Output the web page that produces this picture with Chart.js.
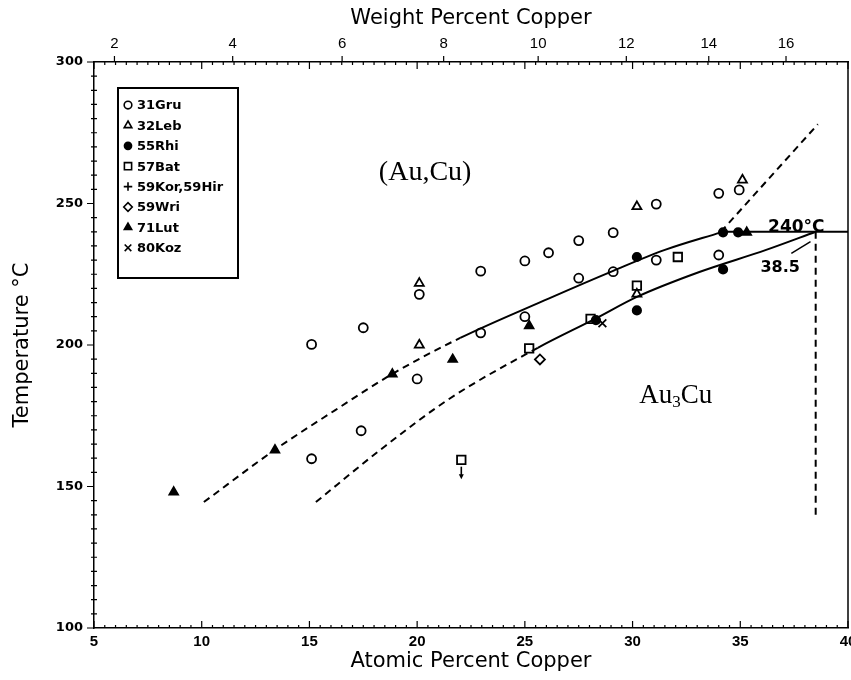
<!DOCTYPE html>
<html>
<head>
<meta charset="utf-8">
<script src="https://cdn.jsdelivr.net/npm/chart.js@4.4.1/dist/chart.umd.min.js"></script>
<style>
  html, body { margin: 0; padding: 0; background: #fff; overflow: hidden; width: 851px; height: 680px; }
  #wrap { width: 880px; height: 680px; }
</style>
</head>
<body>
<div id="wrap"><canvas id="phaseChart" width="880" height="680"></canvas></div>
<script>
// Au-Cu diagram, points are [atomic % Cu, temperature C]
const gru31 = [[15.1, 200.2], [15.1, 159.8], [17.5, 206.1], [17.4, 169.7], [20.1, 217.9], [20.0, 188.0],
  [22.95, 226.1], [22.95, 204.3], [25.0, 229.7], [25.0, 210.0], [26.1, 232.6], [27.5, 223.6], [27.5, 236.9],
  [29.1, 239.7], [29.1, 225.9], [31.1, 249.8], [31.1, 230.0], [34.0, 253.6], [34.95, 254.8], [34.0, 231.8]];
const leb32 = [[20.1, 221.8], [20.1, 200.0], [30.2, 248.9], [30.2, 218.0], [35.1, 258.3]];
const rhi55 = [[28.3, 208.8], [30.2, 231.1], [30.2, 212.2], [34.2, 239.8], [34.9, 239.8], [34.2, 226.7]];
const bat57 = [[22.05, 159.4], [25.2, 198.8], [28.05, 209.2], [30.2, 221.0], [32.1, 231.1]];
const korHir59 = [];
const wri59 = [[25.7, 194.9]];
const lut71 = [[8.7, 148.0], [13.4, 162.9], [18.85, 189.7], [21.65, 194.9], [25.2, 206.8], [35.3, 239.8]];
const koz80 = [[28.6, 207.7]];

// phase boundaries (dashed below the split composition)
const upperBoundary = [[10.1, 144.5], [13.4, 163.0], [16.2, 177.0], [18.9, 190.0], [22.0, 202.5],
  [26.1, 216.4], [29.1, 226.2], [31.5, 233.6], [34.1, 239.8]];
const upperSplit = 22.0;
const lowerBoundary = [[15.3, 144.5], [18.3, 163.0], [21.5, 181.0], [25.6, 199.0], [28.3, 209.4],
  [30.2, 217.0], [33.1, 225.8], [36.2, 233.6], [38.5, 240.0]];
const lowerSplit = 25.6;
const plateau = [[34.1, 240.0], [40.0, 240.0]];
const upperRight = [[34.1, 240.0], [38.6, 278.0]];
const congruent = [[38.5, 240.0], [38.5, 140.0]];

const wtTicks = [2, 4, 6, 8, 10, 12, 14, 16];
const atTicks = [5, 10, 15, 20, 25, 30, 35, 40];
const tempTicks = [100, 150, 200, 250, 300];

const MCU = 63.546, MAU = 196.967;
function wtToAt(w) {
  const cu = w / MCU, au = (100 - w) / MAU;
  return 100 * cu / (cu + au);
}
const pts = arr => arr.map(p => ({ x: p[0], y: p[1] }));
const DASH = [7, 5];

function marks(label, arr, style, filled, radius) {
  return {
    label: label, data: pts(arr), inLegend: true, legendRadius: radius * 0.85,
    pointStyle: style, pointRadius: radius, pointHoverRadius: radius,
    borderColor: '#000', backgroundColor: filled ? '#000' : 'rgba(255,255,255,0)',
    pointBorderWidth: 1.8, showLine: false
  };
}
function curve(arr, dashed, smooth) {
  return {
    data: pts(arr), showLine: true, pointRadius: 0, borderColor: '#000', borderWidth: 2,
    borderDash: dashed ? DASH : [], tension: smooth ? 0.4 : 0,
    cubicInterpolationMode: smooth ? 'monotone' : 'default', fill: false
  };
}
function splitCurve(arr, split) {
  const ds = curve(arr, false, true);
  ds.segment = { borderDash: c => (c.p1.parsed.x <= split + 1e-6 ? DASH : undefined) };
  return ds;
}

const sansTick = { family: "'Liberation Sans Narrow', 'Arial Narrow', sans-serif", size: 15, weight: 'bold' };

// minor / major tick marks on all four sides
const tickMarks = {
  id: 'tickMarks',
  afterDraw(chart) {
    const { ctx, chartArea: a, scales } = chart;
    ctx.save();
    ctx.strokeStyle = '#000';
    ctx.lineWidth = 1.2;
    ctx.beginPath();
    for (let i = 0; i <= 70; i++) {
      const v = 5 + i * 0.5;
      const px = scales.x.getPixelForValue(v);
      const len = i % 10 === 0 ? 7 : 3;
      ctx.moveTo(px, a.bottom); ctx.lineTo(px, a.bottom - len);
      ctx.moveTo(px, a.top); ctx.lineTo(px, a.top + len);
    }
    wtTicks.forEach(w => {
      const px = scales.x2.getPixelForValue(wtToAt(w));
      ctx.moveTo(px, a.top); ctx.lineTo(px, a.top - 6);
    });
    for (let i = 0; i <= 40; i++) {
      const py = scales.y.getPixelForValue(100 + i * 5);
      if (i % 10 === 0) { ctx.moveTo(a.left - 7, py); ctx.lineTo(a.left, py); }
      else { ctx.moveTo(a.left - 3, py); ctx.lineTo(a.left + 3, py); }
    }
    ctx.stroke();
    ctx.lineWidth = 1.5;
    ctx.beginPath();
    ctx.moveTo(a.right, a.top); ctx.lineTo(a.right, a.bottom);
    ctx.stroke();
    ctx.restore();
  }
};

// boxed legend inside the plot
const legendBox = {
  id: 'legendBox',
  afterDatasetsDraw(chart) {
    const { ctx, chartArea: a } = chart;
    const items = chart.data.datasets.filter(d => d.inLegend);
    const bx = a.left + 24, by = a.top + 26, bw = 120, bh = 190;
    ctx.save();
    ctx.fillStyle = '#fff';
    ctx.fillRect(bx, by, bw, bh);
    ctx.strokeStyle = '#000';
    ctx.lineWidth = 2;
    ctx.strokeRect(bx, by, bw, bh);
    ctx.font = "bold 13px 'DejaVu Sans', sans-serif";
    ctx.textBaseline = 'middle';
    items.forEach((d, i) => {
      const cy = by + 17 + i * 20.4;
      ctx.fillStyle = d.backgroundColor;
      ctx.strokeStyle = '#000';
      ctx.lineWidth = 1.6;
      Chart.helpers.drawPoint(ctx, { pointStyle: d.pointStyle, radius: d.legendRadius, borderWidth: 1.6, rotation: 0 }, bx + 10, cy);
      ctx.fillStyle = '#000';
      ctx.fillText(d.label, bx + 19, cy + 1);
    });
    ctx.restore();
  }
};

// region labels and small annotations
const notes = {
  id: 'notes',
  afterDatasetsDraw(chart) {
    const { ctx, scales: { x, y } } = chart;
    ctx.save();
    ctx.fillStyle = '#000';
    ctx.strokeStyle = '#000';
    ctx.textBaseline = 'middle';
    ctx.textAlign = 'center';
    ctx.font = "28px 'Liberation Serif', serif";
    ctx.fillText('(Au,Cu)', x.getPixelForValue(20.37), y.getPixelForValue(261));
    // Au3Cu with subscript
    const ax = x.getPixelForValue(32.0), ay = y.getPixelForValue(182);
    ctx.textAlign = 'left';
    ctx.font = "27px 'Liberation Serif', serif";
    const w1 = ctx.measureText('Au').width;
    ctx.font = "17px 'Liberation Serif', serif";
    const w2 = ctx.measureText('3').width;
    ctx.font = "27px 'Liberation Serif', serif";
    const w3 = ctx.measureText('Cu').width;
    let sx = ax - (w1 + w2 + w3) / 2;
    ctx.fillText('Au', sx, ay); sx += w1;
    ctx.font = "17px 'Liberation Serif', serif";
    ctx.fillText('3', sx, ay + 7); sx += w2;
    ctx.font = "27px 'Liberation Serif', serif";
    ctx.fillText('Cu', sx, ay);
    ctx.font = "bold 17px 'DejaVu Sans', sans-serif";
    ctx.textAlign = 'center';
    ctx.fillText('240\u00B0C', x.getPixelForValue(37.6), y.getPixelForValue(241.5));
    ctx.font = "bold 16px 'DejaVu Sans', sans-serif";
    ctx.fillText('38.5', x.getPixelForValue(36.85), y.getPixelForValue(227.2));
    ctx.lineWidth = 1.5;
    ctx.beginPath();
    ctx.moveTo(x.getPixelForValue(37.37), y.getPixelForValue(232.4));
    ctx.lineTo(x.getPixelForValue(38.26), y.getPixelForValue(236.5));
    ctx.stroke();
    // arrow under the 57Bat point at 22 at.%
    const px = x.getPixelForValue(22.05);
    const top = y.getPixelForValue(157.0), tip = y.getPixelForValue(152.6);
    ctx.lineWidth = 1.6;
    ctx.beginPath(); ctx.moveTo(px, top); ctx.lineTo(px, tip - 3); ctx.stroke();
    ctx.beginPath(); ctx.moveTo(px - 2.5, tip - 5); ctx.lineTo(px + 2.5, tip - 5); ctx.lineTo(px, tip); ctx.closePath(); ctx.fill();
    ctx.restore();
  }
};

new Chart(document.getElementById('phaseChart').getContext('2d'), {
  type: 'scatter',
  data: {
    datasets: [
      splitCurve(upperBoundary, upperSplit),
      splitCurve(lowerBoundary, lowerSplit),
      curve(plateau, false, false),
      curve(upperRight, true, false),
      curve(congruent, true, false),
      marks('31Gru', gru31, 'circle', false, 4.5),
      marks('32Leb', leb32, 'triangle', false, 5.2),
      marks('55Rhi', rhi55, 'circle', true, 4.2),
      marks('57Bat', bat57, 'rect', false, 6),
      marks('59Kor,59Hir', korHir59, 'cross', false, 5),
      marks('59Wri', wri59, 'rectRot', false, 5),
      marks('71Lut', lut71, 'triangle', true, 5),
      marks('80Koz', koz80, 'crossRot', false, 5.5)
    ]
  },
  options: {
    responsive: false,
    animation: false,
    layout: { padding: { left: 0, right: 32, top: 0, bottom: 0 } },
    plugins: { legend: { display: false }, tooltip: { enabled: false } },
    scales: {
      x: {
        type: 'linear', position: 'bottom', min: 5, max: 40,
        afterBuildTicks: s => { s.ticks = atTicks.map(v => ({ value: v })); },
        ticks: { color: '#000', font: sansTick, padding: 5, autoSkip: false, maxRotation: 0 },
        grid: { display: false, drawTicks: false },
        border: { display: true, color: '#000', width: 1.5 },
        title: { display: true, text: 'Atomic Percent Copper', color: '#000',
          font: { family: "'DejaVu Sans', sans-serif", size: 21 }, padding: { top: 0, bottom: 6 } },
        afterFit: s => { s.height = 52; }
      },
      x2: {
        type: 'linear', position: 'top', min: 5, max: 40,
        afterBuildTicks: s => { s.ticks = wtTicks.map(w => ({ value: wtToAt(w) })); },
        ticks: { color: '#000', font: { family: sansTick.family, size: 15 }, padding: 9, autoSkip: false,
          maxRotation: 0, callback: (v, i) => String(wtTicks[i]) },
        grid: { display: false, drawTicks: false },
        border: { display: true, color: '#000', width: 1.5 },
        title: { display: true, text: 'Weight Percent Copper', color: '#000',
          font: { family: "'DejaVu Sans', sans-serif", size: 21 }, padding: { top: 6, bottom: 0 } },
        afterFit: s => { s.height = 62; }
      },
      y: {
        type: 'linear', position: 'left', min: 100, max: 300,
        afterBuildTicks: s => { s.ticks = tempTicks.map(v => ({ value: v })); },
        ticks: { color: '#000', font: { family: "'DejaVu Sans', sans-serif", size: 13, weight: 'bold' }, padding: 11 },
        grid: { display: false, drawTicks: false },
        border: { display: true, color: '#000', width: 1.5 },
        title: { display: true, text: 'Temperature \u00B0C', color: '#000',
          font: { family: "'DejaVu Sans', sans-serif", size: 21 }, padding: { top: 10, bottom: 0 } },
        afterFit: s => { s.width = 94; }
      }
    }
  },
  plugins: [tickMarks, legendBox, notes]
});
</script>
</body>
</html>
